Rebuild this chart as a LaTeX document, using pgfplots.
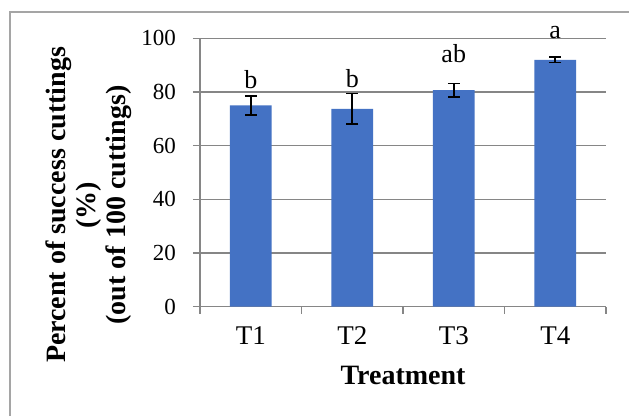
\documentclass[border=0pt]{standalone}
\usepackage{fontspec}
\setmainfont{Liberation Serif}
\usepackage{pgfplots}
\pgfplotsset{compat=1.18}
\definecolor{barblue}{RGB}{68,114,196}
\definecolor{gridgray}{RGB}{134,134,134}
\definecolor{framegray}{RGB}{165,165,165}
\begin{document}
\begin{tikzpicture}
\useasboundingbox (0,0) rectangle (629pt,416pt);
\fill[white] (0,0) rectangle (629pt,416pt);
\draw[framegray, line width=1.5pt] (10pt,0) -- (10pt,404pt) -- (629pt,404pt);
\begin{axis}[
  at={(200pt,109.3pt)}, anchor=south west,
  scale only axis, width=406pt, height=268.4pt,
  xmin=0.5, xmax=4.5, ymin=0, ymax=100,
  clip=false,
  ybar, bar width=41.6pt,
  axis x line*=bottom, axis y line*=left,
  axis line style={gridgray, line width=1.3pt, -},
  ytick={0,20,...,100},
  ymajorgrids, grid style={gridgray, line width=1.3pt},
  xtick={0.5,1.5,2.5,3.5,4.5}, xticklabels={},
  extra x ticks={1,2,3,4}, extra x tick labels={T1,T2,T3,T4},
  extra x tick style={major tick length=0pt, xticklabel style={font=\fontsize{27}{30}\selectfont, anchor=north, inner sep=0pt, yshift=-20pt}},
  tick style={gridgray, line width=1.3pt},
  tick align=outside,
  major tick length=7pt,
  /pgf/number format/assume math mode=true,
  yticklabel style={font=\fontsize{23}{26}\selectfont, anchor=east, inner sep=0pt, xshift=-17pt},
]
\addplot[fill=barblue, draw=none,
  error bars/.cd, y dir=both, y explicit,
  error bar style={black, line width=1.7pt},
  error mark options={rotate=90, mark size=6pt, black, line width=1.7pt}]
  coordinates {(1,75.0) +- (0,3.6) (2,73.7) +- (0,5.75) (3,80.7) +- (0,2.5) (4,92.0) +- (0,1.05)};
\node[font=\fontsize{26}{30}\selectfont] at (axis cs:1,84.7) {b};
\node[font=\fontsize{26}{30}\selectfont] at (axis cs:2,85.1) {b};
\node[font=\fontsize{26}{30}\selectfont] at (axis cs:3,94.4) {ab};
\node[font=\fontsize{26}{30}\selectfont] at (axis cs:4,102.1) {a};
\end{axis}
\node[font=\bfseries\fontsize{28}{30}\selectfont] at (403pt,41pt) {Treatment};
\node[rotate=90, align=center, font=\bfseries\fontsize{28}{30}\selectfont] at (89pt,211pt) {Percent of success cuttings\\(\%)\\(out of 100 cuttings)};
\end{tikzpicture}
\end{document}
